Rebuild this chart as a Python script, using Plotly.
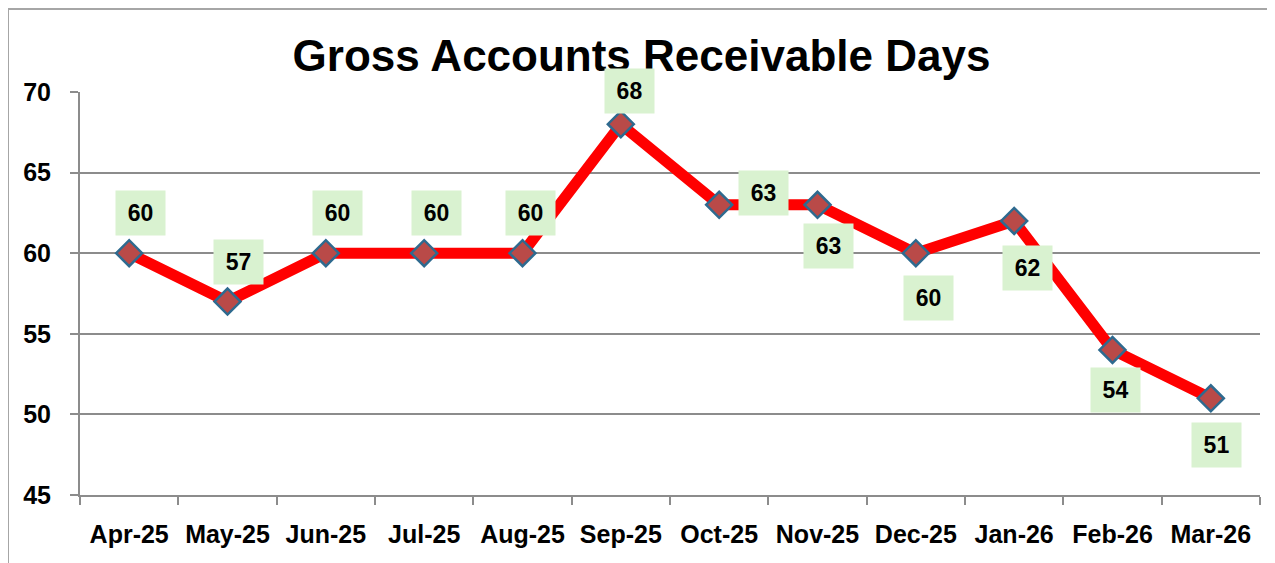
import plotly.graph_objects as go

months = ["Apr-25", "May-25", "Jun-25", "Jul-25", "Aug-25", "Sep-25",
          "Oct-25", "Nov-25", "Dec-25", "Jan-26", "Feb-26", "Mar-26"]
days = [60, 57, 60, 60, 60, 68, 63, 63, 60, 62, 54, 51]
label_dx = [11, 11, 12, 12, 8, 9, 44, 11, 13, 13, 3, 6]
label_dy = [40, 40, 40, 40, 40, 33, 12, -41, -45, -47, -40, -47]

title_text = "Gross Accounts Receivable Days"
font_family = "Liberation Sans, Arial, sans-serif"
grid_color = "#8c8c8c"

W, H = 1267, 555

fig = go.Figure()
fig.add_trace(go.Scatter(
    x=months, y=days, mode="lines+markers",
    line=dict(color="#ff0000", width=11),
    marker=dict(symbol="diamond", size=20, color="#b94a48",
                line=dict(color="#2e6a8f", width=2.5)),
    showlegend=False, hoverinfo="x+y",
))

for m, v, dx, dy in zip(months, days, label_dx, label_dy):
    fig.add_annotation(
        x=m, y=v, text=f"<b>{v}</b>", showarrow=False,
        xshift=dx, yshift=dy, width=47, height=42,
        bgcolor="#d9f2d0", font=dict(family=font_family, size=23, color="#000000"),
    )

# outer chart border
fig.add_shape(type="rect", xref="paper", yref="paper",
              x0=-72 / 1180, x1=1.0085, y0=-0.2, y1=1 + 83 / 403,
              line=dict(color="#a6a6a6", width=2), layer="below")

fig.update_layout(
    width=W, height=H,
    margin=dict(l=72, r=15, t=84, b=68, pad=0),
    paper_bgcolor="white", plot_bgcolor="white",
    title=dict(text=f"<b>{title_text}</b>", x=0.5, xanchor="center",
               y=1 - 48 / H, yanchor="middle",
               font=dict(family=font_family, size=44, color="#000000")),
    xaxis=dict(
        type="category", range=[-0.5, 11.5],
        tickson="boundaries", ticks="outside", ticklen=8, tickwidth=2, tickcolor=grid_color,
        showline=True, linecolor=grid_color, linewidth=2, showgrid=False,
        tickfont=dict(family=font_family, size=25, color="#000000"),
        ticklabelstandoff=16, fixedrange=True,
    ),
    yaxis=dict(
        range=[45, 70], dtick=5, tick0=45,
        ticks="outside", ticklen=8, tickwidth=2, tickcolor=grid_color,
        showline=True, linecolor=grid_color, linewidth=2,
        showgrid=True, gridcolor=grid_color, gridwidth=2, zeroline=False,
        tickfont=dict(family=font_family, size=25, color="#000000"),
        tickprefix="<b>", ticksuffix="</b>", ticklabelstandoff=14, fixedrange=True,
    ),
)
fig.update_xaxes(ticktext=[f"<b>{m}</b>" for m in months], tickvals=months)

fig.write_html("out.html")
